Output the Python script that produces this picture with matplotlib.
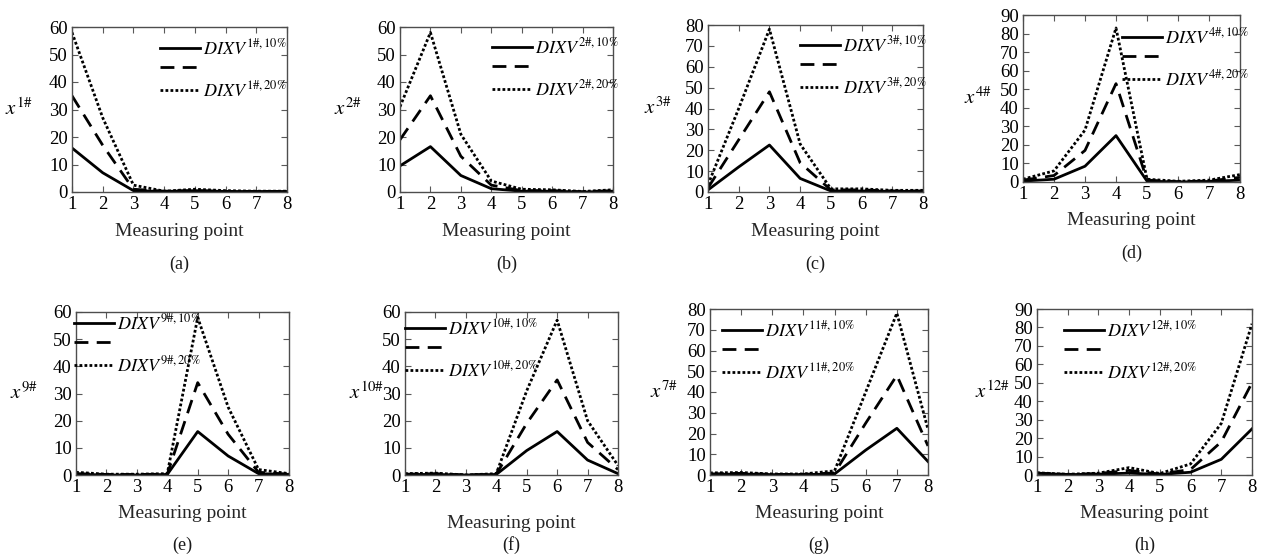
import numpy as np
import matplotlib
matplotlib.use('Agg')
import matplotlib.pyplot as plt

plt.rcParams['font.family'] = 'Liberation Serif'
plt.rcParams['mathtext.fontset'] = 'stix'

points = [1, 2, 3, 4, 5, 6, 7, 8]

# panel ids used in legend / y label
legend_ids = ['1', '2', '3', '4', '9', '10', '11', '12']
ylabel_ids = ['1', '2', '3', '4', '9', '10', '7', '12']
panel_tags = ['(a)', '(b)', '(c)', '(d)', '(e)', '(f)', '(g)', '(h)']
ymax = [60, 60, 80, 90, 60, 60, 80, 90]

# DIXV, 10% damage (solid)
s10 = [
    [16, 7, 0.5, 0.2, 0.5, 0.2, 0.2, 0.2],
    [9.5, 16.5, 6, 1.2, 0.3, 0.3, 0.0, 0.3],
    [1, 12, 22.5, 6.5, 0.5, 0.5, 0.3, 0.3],
    [0.5, 1.5, 8.5, 25, 0.5, 0.0, 0.3, 1],
    [0.3, 0.0, 0.0, 0.2, 16, 7, 0.5, 0.2],
    [0.2, 0.2, 0.0, 0.2, 9, 16, 5.5, 0.5],
    [0.3, 0.5, 0.2, 0.2, 0.5, 12, 22.5, 6.5],
    [1, 0.2, 0.5, 1, 0.3, 1.5, 8.5, 25],
]
# intermediate (dashed)
s15 = [
    [35, 17, 1, 0.3, 0.5, 0.2, 0.2, 0.2],
    [19, 35, 13, 2.5, 0.5, 0.5, 0.1, 0.5],
    [2, 25, 48, 14, 1, 1, 0.5, 0.5],
    [1, 3.5, 17, 53, 1, 0.2, 0.5, 2.5],
    [0.5, 0.2, 0.2, 0.3, 34, 15, 1, 0.3],
    [0.3, 0.5, 0.0, 0.3, 19, 35, 12, 2],
    [0.5, 0.8, 0.3, 0.3, 1, 25, 48, 14],
    [1, 0.3, 0.8, 2.5, 0.5, 3, 18, 50],
]
# 20% damage (dotted)
s20 = [
    [58, 27, 2.5, 0.3, 1, 0.5, 0.3, 0.3],
    [31, 58, 21, 4, 1, 0.8, 0.2, 0.8],
    [3.5, 40, 78, 23, 1.5, 1.5, 0.8, 0.8],
    [1.5, 6, 28, 83, 1.5, 0.4, 1, 4],
    [1, 0.3, 0.3, 0.5, 58, 25, 2, 0.5],
    [0.5, 0.7, 0.0, 0.5, 31, 57, 20, 3.5],
    [1, 1.2, 0.5, 0.5, 2, 40, 78, 22],
    [1.2, 0.4, 1, 4, 0.8, 6, 28, 82],
]

W, H = 1262, 560
fig = plt.figure(figsize=(W / 100, H / 100), dpi=100)

# axes boxes in pixels: left, right, top, bottom
boxes = [
    (72, 287, 27, 192), (400, 613, 27, 192), (708, 923, 25, 192), (1023, 1240, 15, 182),
    (76, 289, 312, 475), (405, 618, 312, 475), (710, 928, 309, 475), (1037, 1252, 309, 475),
]
# legend anchor (handle left, top) in pixels
leg_pos = [(160, 38), (492, 37), (800, 35), (1122, 27),
           (74, 313), (405, 318), (722, 320), (1064, 320)]
# ylabel right edge offset from axes (px)
ylab_off = [39, 38, 36, 31, 38, 21, 32, 27]
xlab_y = [231, 231, 231, 221, 514, 524, 514, 514]
tag_y = [264, 264, 264, 253, 545, 545, 545, 545]

for i in range(8):
    l, r, t, b = boxes[i]
    ax = fig.add_axes([l / W, 1 - b / H, (r - l) / W, (b - t) / H])
    h1, = ax.plot(points, s10[i], color='black', lw=2, ls='-')
    h2, = ax.plot(points, s15[i], color='black', lw=2, ls=(0, (5, 3)))
    h3, = ax.plot(points, s20[i], color='black', lw=2, ls=(0, (1, 0.8)))
    ax.set_xlim(1, 8)
    ax.set_ylim(0, ymax[i])
    ax.set_xticks(points)
    ax.set_yticks(np.arange(0, ymax[i] + 1, 10))
    ax.tick_params(direction='in', length=4, top=True, right=True,
                   labelsize=13.5, pad=3, color='0.35')
    for sp in ax.spines.values():
        sp.set_color('0.3')
        sp.set_linewidth(1)

    lid = legend_ids[i]
    labels = [r'$DIXV^{\mathrm{%s\#,10\%%}}$' % lid, '',
              r'$DIXV^{\mathrm{%s\#,20\%%}}$' % lid]
    lx, ly = leg_pos[i]
    ax.legend([h1, h2, h3], labels, loc='upper left',
              bbox_to_anchor=(lx / W, 1 - ly / H), bbox_transform=fig.transFigure,
              frameon=False, borderpad=0, borderaxespad=0, handlelength=2.2,
              handletextpad=0.2, labelspacing=0.15, fontsize=13)

    ax.set_ylabel(r'$x^{\mathrm{%s\#}}$' % ylabel_ids[i], rotation=0,
                  ha='right', va='center', fontsize=15)
    ax.yaxis.set_label_coords(-ylab_off[i] / (r - l), 0.5)

    cx = (l + r) / 2
    fig.text(cx / W, 1 - xlab_y[i] / H, 'Measuring point', ha='center',
             va='center', fontsize=14, color='0.15')
    fig.text(cx / W, 1 - tag_y[i] / H, panel_tags[i], ha='center',
             va='center', fontsize=13, color='0.1')

fig.savefig('out.png', dpi=100)
